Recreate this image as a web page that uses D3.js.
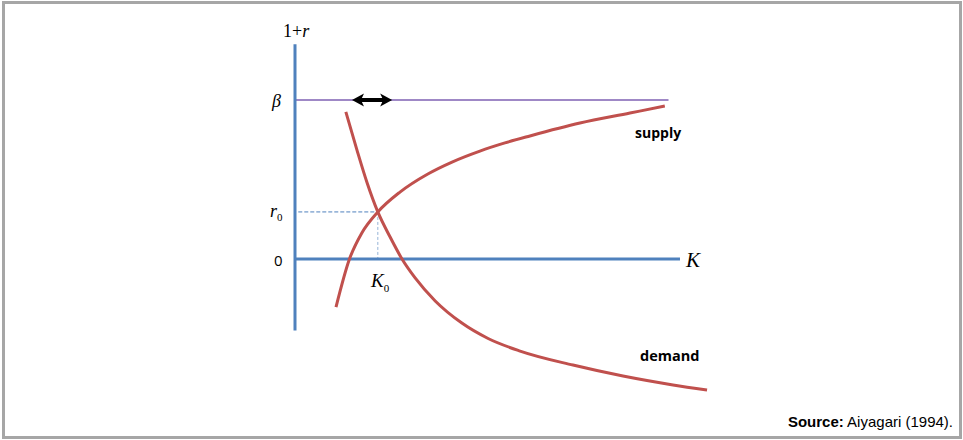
<!DOCTYPE html>
<html>
<head>
<meta charset="utf-8">
<script src="https://cdn.jsdelivr.net/npm/d3@7"></script>
<style>
  body { margin: 0; background: #fff; }
  svg { display: block; }
</style>
</head>
<body>
<svg width="963" height="440"></svg>
<script>
// curve points: capital K (x) and interest r (y, beta = 1)
const supplyK = [10.0, 13.2, 16.3, 20.2, 25.6, 32.4, 38.3, 45.1, 51.2, 57.3, 69.5, 81.7, 90.2];
const supplyR = [-0.302, -0.006, 0.164, 0.296, 0.421, 0.535, 0.610, 0.679, 0.730, 0.774, 0.855, 0.918, 0.962];

const demandK = [12.4, 15.1, 17.6, 20.2, 23.2, 26.1, 29.3, 34.2, 40.7, 47.1, 54.9, 67.8, 80.0, 92.2, 100.5];
const demandR = [0.925, 0.686, 0.478, 0.296, 0.138, 0, -0.119, -0.264, -0.403, -0.500, -0.579, -0.667, -0.736, -0.792, -0.824];

const beta = 1;
const r0 = 0.296;
const K0 = 20.2;
const axisTopR = 1.35;
const axisBottomR = -0.45;
const axisEndK = 93.9;
const betaEndK = 91.1;
const arrowK = [13.9, 23.7];

const svg = d3.select('svg');

// frame
svg.append('rect')
  .attr('x', 3.5).attr('y', 2.5)
  .attr('width', 957).attr('height', 435)
  .attr('fill', 'none')
  .attr('stroke', '#a6a6a6')
  .attr('stroke-width', 3);

const x = d3.scaleLinear().domain([0, 100]).range([295, 705]);
const y = d3.scaleLinear().domain([0, 1]).range([259, 100]);

const blue = '#4f81bd';
const red = '#c0504d';

// beta line
svg.append('line')
  .attr('x1', x(0)).attr('x2', x(betaEndK))
  .attr('y1', y(beta)).attr('y2', y(beta))
  .attr('stroke', '#9f88c6').attr('stroke-width', 2);

// dashed guides to the equilibrium
svg.append('line')
  .attr('x1', x(0.8)).attr('x2', x(K0))
  .attr('y1', y(r0)).attr('y2', y(r0))
  .attr('stroke', blue).attr('stroke-width', 1)
  .attr('stroke-dasharray', '4,2');
svg.append('line')
  .attr('x1', x(K0)).attr('x2', x(K0))
  .attr('y1', y(r0)).attr('y2', y(0))
  .attr('stroke', '#95b3d7').attr('stroke-width', 1)
  .attr('stroke-dasharray', '3,2');

// axes
svg.append('line')
  .attr('x1', x(0)).attr('x2', x(axisEndK))
  .attr('y1', y(0)).attr('y2', y(0))
  .attr('stroke', blue).attr('stroke-width', 3);
svg.append('line')
  .attr('x1', x(0)).attr('x2', x(0))
  .attr('y1', y(axisTopR)).attr('y2', y(axisBottomR))
  .attr('stroke', blue).attr('stroke-width', 3);

// supply and demand curves
const line = d3.line()
  .x((d) => x(d[0]))
  .y((d) => y(d[1]))
  .curve(d3.curveMonotoneX);

svg.append('path')
  .datum(d3.zip(supplyK, supplyR))
  .attr('d', line)
  .attr('fill', 'none')
  .attr('stroke', red)
  .attr('stroke-width', 3);

svg.append('path')
  .datum(d3.zip(demandK, demandR))
  .attr('d', line)
  .attr('fill', 'none')
  .attr('stroke', red)
  .attr('stroke-width', 3);

// double arrow on the beta line
const ax0 = x(arrowK[0]);
const ax1 = x(arrowK[1]);
const ay = y(beta);
svg.append('line')
  .attr('x1', ax0 + 8).attr('x2', ax1 - 8)
  .attr('y1', ay).attr('y2', ay)
  .attr('stroke', '#000').attr('stroke-width', 4);
svg.append('path')
  .attr('d', `M${ax0},${ay} L${ax0 + 12},${ay - 6.5} L${ax0 + 9},${ay} L${ax0 + 12},${ay + 6.5} Z`)
  .attr('fill', '#000');
svg.append('path')
  .attr('d', `M${ax1},${ay} L${ax1 - 12},${ay - 6.5} L${ax1 - 9},${ay} L${ax1 - 12},${ay + 6.5} Z`)
  .attr('fill', '#000');

// labels
const serif = '"Liberation Serif", "DejaVu Serif", serif';

const t1 = svg.append('text')
  .attr('x', 283).attr('y', 37)
  .attr('font-family', serif).attr('font-size', 18).attr('fill', '#000');
t1.append('tspan').text('1+');
t1.append('tspan').attr('font-style', 'italic').text('r');

svg.append('text')
  .attr('x', 272).attr('y', y(beta) + 7)
  .attr('font-family', serif).attr('font-style', 'italic')
  .attr('font-size', 18).text('β');

const tr = svg.append('text')
  .attr('x', 270).attr('y', y(r0) + 5)
  .attr('font-family', serif).attr('font-size', 18);
tr.append('tspan').attr('font-style', 'italic').text('r');
tr.append('tspan').attr('font-size', 11).attr('dy', 4).text('0');

svg.append('text')
  .attr('x', 274).attr('y', y(0) + 7)
  .attr('font-family', '"Open Sans", sans-serif')
  .attr('font-size', 15).text('0');

const tk = svg.append('text')
  .attr('x', 371).attr('y', y(0) + 28)
  .attr('font-family', serif).attr('font-size', 19);
tk.append('tspan').attr('font-style', 'italic').text('K');
tk.append('tspan').attr('font-size', 11).attr('dy', 5).text('0');

svg.append('text')
  .attr('x', 686).attr('y', y(0) + 8)
  .attr('font-family', serif).attr('font-style', 'italic')
  .attr('font-size', 21).text('K');

svg.append('text')
  .attr('x', 635).attr('y', 138)
  .attr('font-family', '"Open Sans", sans-serif')
  .attr('font-weight', 'bold').attr('font-size', 14)
  .text('supply');

svg.append('text')
  .attr('x', 640).attr('y', 361)
  .attr('font-family', '"Open Sans", sans-serif')
  .attr('font-weight', 'bold').attr('font-size', 14.5)
  .text('demand');

const src = svg.append('text')
  .attr('x', 953).attr('y', 427)
  .attr('text-anchor', 'end')
  .attr('font-family', '"Liberation Sans Narrow", "Liberation Sans", Arial, sans-serif')
  .attr('font-size', 15).attr('fill', '#000');
src.append('tspan').attr('font-weight', 'bold').text('Source:');
src.append('tspan').text(' Aiyagari (1994).');
</script>
</body>
</html>
